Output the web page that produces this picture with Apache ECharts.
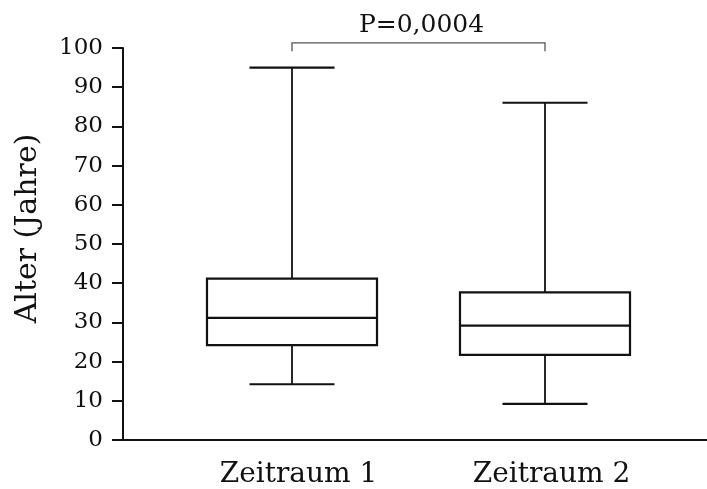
<!DOCTYPE html>
<html>
<head>
<meta charset="utf-8">
<script src="https://cdn.jsdelivr.net/npm/echarts@6/dist/echarts.min.js"></script>
<style>
  html, body { margin: 0; padding: 0; background: #fff; }
  #chart { width: 707px; height: 489px; }
</style>
</head>
<body>
<div id="chart"></div>
<script>
// Box plot values (Alter in Jahren)
const categories = ['Zeitraum 1', 'Zeitraum 2']
const lowWhisker = [14, 9]
const q1 = [24, 21.5]
const median = [31, 29]
const q3 = [41, 37.5]
const highWhisker = [95, 86]

// Significance bracket between the two groups
const bracketFrom = 0
const bracketTo = 1
const bracketTop = 101.3
const bracketFoot = 99.2
const pValueLabel = 'P=0,0004'

const yTicks = [0, 10, 20, 30, 40, 50, 60, 70, 80, 90, 100]

const ink = '#111'
const serif = '"DejaVu Serif", "Liberation Serif", serif'

const chart = echarts.init(document.getElementById('chart'))

function renderBox(params, api) {
  const x = api.value(0)
  const band = api.size([1, 0])[0]
  const boxW = band * 0.672
  const capW = boxW / 2
  const pLow = api.coord([x, api.value(1)])
  const pQ1 = api.coord([x, api.value(2)])
  const pMed = api.coord([x, api.value(3)])
  const pQ3 = api.coord([x, api.value(4)])
  const pHigh = api.coord([x, api.value(5)])
  const cx = pMed[0]
  const thin = { stroke: ink, lineWidth: 1.8 }
  const thick = { stroke: ink, lineWidth: 2.2 }
  return {
    type: 'group',
    children: [
      { type: 'line', shape: { x1: cx, y1: pHigh[1], x2: cx, y2: pQ3[1] }, style: thin },
      { type: 'line', shape: { x1: cx, y1: pQ1[1], x2: cx, y2: pLow[1] }, style: thin },
      { type: 'line', shape: { x1: cx - capW / 2, y1: pHigh[1], x2: cx + capW / 2, y2: pHigh[1] }, style: thick },
      { type: 'line', shape: { x1: cx - capW / 2, y1: pLow[1], x2: cx + capW / 2, y2: pLow[1] }, style: thick },
      {
        type: 'rect',
        shape: { x: cx - boxW / 2, y: pQ3[1], width: boxW, height: pQ1[1] - pQ3[1] },
        style: { fill: '#fff', stroke: ink, lineWidth: 2.2 },
      },
      { type: 'line', shape: { x1: cx - boxW / 2, y1: pMed[1], x2: cx + boxW / 2, y2: pMed[1] }, style: thick },
    ],
  }
}

function renderBracket(params, api) {
  const a = api.coord([api.value(0), api.value(2)])
  const b = api.coord([api.value(1), api.value(2)])
  const foot = api.coord([api.value(0), api.value(3)])[1]
  const style = { stroke: '#555', lineWidth: 1.3, fill: null }
  return {
    type: 'group',
    children: [
      {
        type: 'polyline',
        shape: { points: [[a[0], foot], a, b, [b[0], foot]] },
        style: style,
      },
      {
        type: 'text',
        x: (a[0] + b[0]) / 2 + 3,
        y: a[1] - 5,
        style: {
          text: pValueLabel,
          fontFamily: serif,
          fontSize: 25,
          fill: ink,
          align: 'center',
          verticalAlign: 'bottom',
        },
      },
    ],
  }
}

const boxData = categories.map((c, i) => [i, lowWhisker[i], q1[i], median[i], q3[i], highWhisker[i]])

chart.setOption({
  animation: false,
  backgroundColor: '#fff',
  textStyle: { fontFamily: serif, color: ink },
  grid: [
    // frame with the axes
    { left: 123, right: 0, top: 48, height: 392 },
    // narrower area that holds the boxes
    { left: 165.5, width: 506, top: 48, height: 392 },
  ],
  xAxis: [
    {
      gridIndex: 0,
      type: 'value',
      min: 0,
      max: 1,
      axisLine: { show: true, lineStyle: { color: ink, width: 2 } },
      axisTick: { show: false },
      axisLabel: { show: false },
      splitLine: { show: false },
    },
    {
      gridIndex: 1,
      type: 'category',
      data: categories,
      axisLine: { show: false },
      axisTick: { show: false },
      axisLabel: {
        fontFamily: serif,
        fontSize: 28,
        color: ink,
        margin: 22,
        padding: [0, 0, 0, 13],
      },
    },
  ],
  yAxis: [
    {
      gridIndex: 0,
      type: 'value',
      min: yTicks[0],
      max: yTicks[yTicks.length - 1],
      interval: 10,
      name: 'Alter (Jahre)',
      nameLocation: 'middle',
      nameGap: 80,
      nameTextStyle: { fontFamily: serif, fontSize: 30, color: ink, padding: [0, 0, 0, 31] },
      axisLine: { show: true, lineStyle: { color: ink, width: 2 } },
      axisTick: { show: true, length: 11, lineStyle: { color: ink, width: 2 } },
      axisLabel: { fontFamily: serif, fontSize: 23, color: ink, margin: 20 },
      splitLine: { show: false },
    },
    {
      gridIndex: 1,
      type: 'value',
      min: yTicks[0],
      max: yTicks[yTicks.length - 1],
      show: false,
    },
  ],
  series: [
    {
      type: 'custom',
      xAxisIndex: 1,
      yAxisIndex: 1,
      renderItem: renderBox,
      encode: { x: 0, y: [1, 2, 3, 4, 5] },
      data: boxData,
      clip: false,
    },
    {
      type: 'custom',
      xAxisIndex: 1,
      yAxisIndex: 1,
      renderItem: renderBracket,
      encode: { x: [0, 1], y: [2, 3] },
      data: [[bracketFrom, bracketTo, bracketTop, bracketFoot]],
      clip: false,
    },
  ],
})
</script>
</body>
</html>
